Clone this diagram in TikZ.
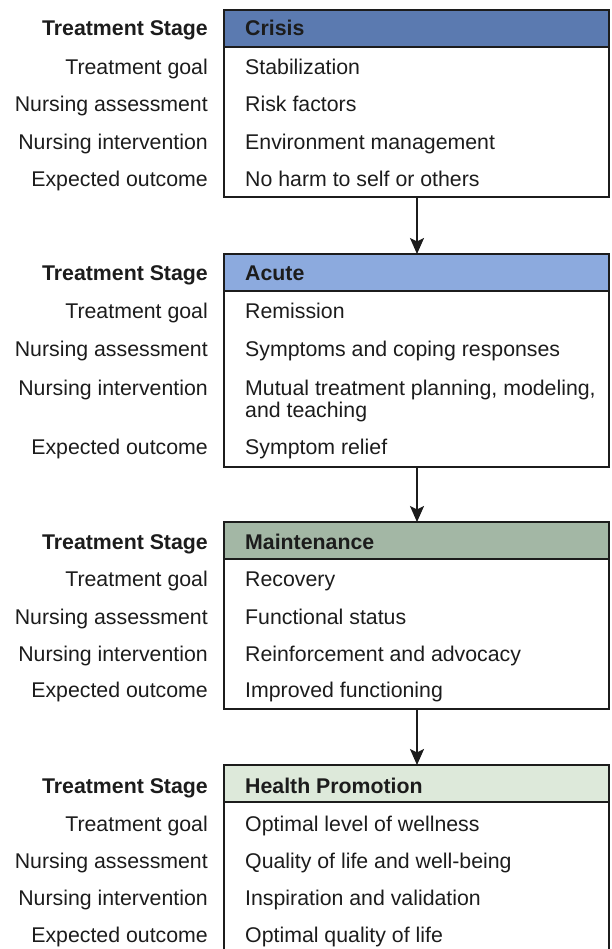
\documentclass[tikz,border=0pt]{standalone}
\usepackage{fontspec}
\setmainfont{Liberation Sans}
\usetikzlibrary{arrows.meta}

\definecolor{crisisfill}{RGB}{91,122,176}
\definecolor{acutefill}{RGB}{140,170,222}
\definecolor{maintfill}{RGB}{163,183,165}
\definecolor{healthfill}{RGB}{221,233,218}
\definecolor{ink}{RGB}{28,28,28}

\begin{document}
\begin{tikzpicture}[x=1pt,y=-1pt,
  frame/.style={draw=ink, line width=2.8pt, minimum width=385pt,
                inner sep=0pt, outer sep=0pt, anchor=north west},
  head/.style={frame, minimum height=37pt},
  body/.style={frame, minimum height=#1},
  txt/.style={font=\fontsize{21.3}{25}\selectfont, text=ink, inner sep=0pt},
  lbl/.style={txt, anchor=base east},
  hlbl/.style={lbl, font=\fontsize{21.3}{25}\selectfont\bfseries},
  item/.style={txt, anchor=base west},
  hitem/.style={item, font=\fontsize{21.3}{25}\selectfont\bfseries},
  flow/.style={draw=ink, line width=2pt, -{Stealth[length=16pt,width=14pt,inset=3.5pt]}}
]
\useasboundingbox (0,0) rectangle (611,949);
\clip (0,0) rectangle (611,949);

% ---------- Crisis ----------
\node[body=150pt] (c1) at (224,47) {};
\node[head, fill=crisisfill] (h1) at (224,10) {};
\node[hlbl] (s1) at (208,36) {Treatment Stage};
\node[lbl] (g1) at (208,74.5) {Treatment goal};
\node[lbl] (a1) at (208,112) {Nursing assessment};
\node[lbl] (i1) at (208,149.5) {Nursing intervention};
\node[lbl] (o1) at (208,186.5) {Expected outcome};
\node[hitem] (t1) at (245,36) {Crisis};
\node[item] (tg1) at (245,74.5) {Stabilization};
\node[item] (ta1) at (245,112) {Risk factors};
\node[item] (ti1) at (245,149.5) {Environment management};
\node[item] (to1) at (245,186.5) {No harm to self or others};

% ---------- Acute ----------
\node[body=176pt] (c2) at (224,291) {};
\node[head, fill=acutefill] (h2) at (224,254) {};
\node[hlbl] (s2) at (208,280.5) {Treatment Stage};
\node[lbl] (g2) at (208,318) {Treatment goal};
\node[lbl] (a2) at (208,356.5) {Nursing assessment};
\node[lbl] (i2) at (208,395.5) {Nursing intervention};
\node[lbl] (o2) at (208,454) {Expected outcome};
\node[hitem] (t2) at (245,280.5) {Acute};
\node[item] (tg2) at (245,318) {Remission};
\node[item] (ta2) at (245,356.5) {Symptoms and coping responses};
\node[item] (ti2) at (245,395.5) {Mutual treatment planning, modeling,};
\node[item] (ti2b) at (245,417.5) {and teaching};
\node[item] (to2) at (245,454) {Symptom relief};

% ---------- Maintenance ----------
\node[body=150pt] (c3) at (224,559) {};
\node[head, fill=maintfill] (h3) at (224,522) {};
\node[hlbl] (s3) at (208,549) {Treatment Stage};
\node[lbl] (g3) at (208,586.5) {Treatment goal};
\node[lbl] (a3) at (208,624) {Nursing assessment};
\node[lbl] (i3) at (208,661) {Nursing intervention};
\node[lbl] (o3) at (208,697.5) {Expected outcome};
\node[hitem] (t3) at (245,549) {Maintenance};
\node[item] (tg3) at (245,586.5) {Recovery};
\node[item] (ta3) at (245,624) {Functional status};
\node[item] (ti3) at (245,661) {Reinforcement and advocacy};
\node[item] (to3) at (245,697.5) {Improved functioning};

% ---------- Health Promotion ----------
\node[body=150pt] (c4) at (224,802) {};
\node[head, fill=healthfill] (h4) at (224,765) {};
\node[hlbl] (s4) at (208,793.5) {Treatment Stage};
\node[lbl] (g4) at (208,831) {Treatment goal};
\node[lbl] (a4) at (208,868.5) {Nursing assessment};
\node[lbl] (i4) at (208,905) {Nursing intervention};
\node[lbl] (o4) at (208,942.5) {Expected outcome};
\node[hitem] (t4) at (245,793.5) {Health Promotion};
\node[item] (tg4) at (245,831) {Optimal level of wellness};
\node[item] (ta4) at (245,868.5) {Quality of life and well-being};
\node[item] (ti4) at (245,905) {Inspiration and validation};
\node[item] (to4) at (245,942.5) {Optimal quality of life};

% ---------- stage transitions ----------
\draw[flow] ([xshift=0.5pt]c1.south) -- ([xshift=0.5pt]h2.north);
\draw[flow] ([xshift=0.5pt]c2.south) -- ([xshift=0.5pt]h3.north);
\draw[flow] ([xshift=0.5pt]c3.south) -- ([xshift=0.5pt]h4.north);
\end{tikzpicture}
\end{document}
